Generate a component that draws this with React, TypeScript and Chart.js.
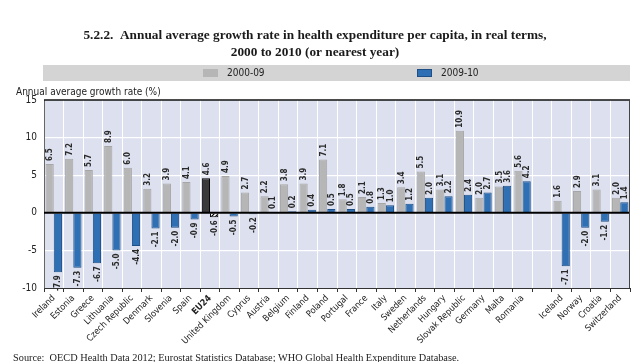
import React, { useEffect, useRef } from "react";
import { Chart, registerables } from "chart.js";

Chart.register(...registerables);

const categories = [
  "Ireland", "Estonia", "Greece", "Lithuania", "Czech Republic", "Denmark", "Slovenia", "Spain", "EU24",
  "United Kingdom", "Cyprus", "Austria", "Belgium", "Finland", "Poland", "Portugal", "France", "Italy",
  "Sweden", "Netherlands", "Hungary", "Slovak Republic", "Germany", "Malta", "Romania", "",
  "Iceland", "Norway", "Croatia", "Switzerland",
];
const growth2000to09 = [
  6.5, 7.2, 5.7, 8.9, 6.0, 3.2, 3.9, 4.1, 4.6, 4.9, 2.7, 2.2, 3.8, 3.9, 7.1, 1.8, 2.1, 1.3, 3.4, 5.5,
  3.1, 10.9, 2.0, 3.5, 5.6, null, 1.6, 2.9, 3.1, 2.0,
];
const growth2009to10 = [
  -7.9, -7.3, -6.7, -5.0, -4.4, -2.1, -2.0, -0.9, -0.6, -0.5, -0.2, 0.1, 0.2, 0.4, 0.5, 0.5, 0.8, 1.0,
  1.2, 2.0, 2.2, 2.4, 2.7, 3.6, 4.2, null, -7.1, -2.0, -1.2, 1.4,
];
const seriesLabels = ["2000-09", "2009-10"];
const yTicks = [-10, -5, 0, 5, 10, 15];
const titleLines = [
  "5.2.2.  Annual average growth rate in health expenditure per capita, in real terms,",
  "2000 to 2010 (or nearest year)",
];
const yAxisTitle = "Annual average growth rate (%)";
const sourceText =
  "Source:  OECD Health Data 2012; Eurostat Statistics Database; WHO Global Health Expenditure Database.";
const highlight = "EU24";

const NARROW = "'Liberation Sans Narrow', 'DejaVu Sans Condensed', 'Roboto Condensed', sans-serif";
const SERIF = "'Liberation Serif', 'DejaVu Serif', serif";

const GRAY = "#b6b6b6";
const BLUE = "#2f6fb3";

function makeHatch(): CanvasPattern | string {
  const c = document.createElement("canvas");
  c.width = 4;
  c.height = 4;
  const g = c.getContext("2d");
  if (!g) return "#fff";
  g.fillStyle = "#fff";
  g.fillRect(0, 0, 4, 4);
  g.strokeStyle = "#000";
  g.lineWidth = 1.2;
  g.beginPath();
  g.moveTo(0, 4);
  g.lineTo(4, 0);
  g.moveTo(-1, 1);
  g.lineTo(1, -1);
  g.moveTo(3, 5);
  g.lineTo(5, 3);
  g.stroke();
  const p = g.createPattern(c, "repeat");
  return p || "#fff";
}

const decorPlugin = {
  id: "decor",
  beforeDraw(chart: any) {
    const { ctx, chartArea: a } = chart;
    ctx.save();
    ctx.fillStyle = "#fff";
    ctx.fillRect(0, 0, chart.width, chart.height);
    ctx.fillStyle = "#dde1ef";
    ctx.fillRect(a.left, a.top, a.right - a.left, a.bottom - a.top);
    // legend band
    const bandTop = 65;
    const bandH = 16;
    ctx.fillStyle = "#d4d4d4";
    ctx.fillRect(43, bandTop, 630 - 43, bandH);
    const ds = chart.data.datasets;
    const swatchX = [203, 417];
    ds.forEach((d: any, i: number) => {
      ctx.fillStyle = i === 0 ? GRAY : BLUE;
      ctx.fillRect(swatchX[i], bandTop + 4, 15, 8);
      if (i === 1) {
        ctx.strokeStyle = "#1e4f86";
        ctx.lineWidth = 1;
        ctx.strokeRect(swatchX[i] + 0.5, bandTop + 4.5, 14, 7);
      }
      ctx.fillStyle = "#222";
      ctx.font = `10px ${NARROW}`;
      ctx.textBaseline = "middle";
      ctx.textAlign = "left";
      ctx.fillText(d.label, swatchX[i] + 24, bandTop + bandH / 2 + 0.5);
    });
    // y axis title
    ctx.fillStyle = "#222";
    ctx.font = `10px ${NARROW}`;
    ctx.textBaseline = "middle";
    ctx.fillText(yAxisTitle, 16, 92);
    ctx.restore();
  },
  afterDatasetsDraw(chart: any) {
    const { ctx, chartArea: a } = chart;
    const y = chart.scales.y;
    ctx.save();
    // zero line
    const y0 = y.getPixelForValue(0);
    ctx.strokeStyle = "#000";
    ctx.lineWidth = 2;
    ctx.beginPath();
    ctx.moveTo(a.left, y0);
    ctx.lineTo(a.right, y0);
    ctx.stroke();
    // frame
    ctx.lineWidth = 1.6;
    ctx.strokeStyle = "#111";
    ctx.beginPath();
    ctx.moveTo(a.left, a.top);
    ctx.lineTo(a.right, a.top);
    ctx.stroke();
    ctx.lineWidth = 1;
    ctx.strokeStyle = "#444";
    ctx.beginPath();
    ctx.moveTo(a.right - 0.5, a.top);
    ctx.lineTo(a.right - 0.5, a.bottom);
    ctx.stroke();
    // value labels
    ctx.fillStyle = "#2a2a2a";
    ctx.font = `bold 8px ${NARROW}`;
    ctx.textBaseline = "middle";
    chart.data.datasets.forEach((d: any, di: number) => {
      const meta = chart.getDatasetMeta(di);
      meta.data.forEach((el: any, i: number) => {
        const v = d.data[i];
        if (v === null || v === undefined) return;
        const txt = v.toFixed(1);
        ctx.save();
        if (v >= 0) {
          ctx.translate(el.x, el.y - 3);
          ctx.rotate(-Math.PI / 2);
          ctx.textAlign = "left";
        } else {
          ctx.translate(el.x, el.y + 3);
          ctx.rotate(-Math.PI / 2);
          ctx.textAlign = "right";
        }
        ctx.fillText(txt, 0, 0.5);
        ctx.restore();
      });
    });
    ctx.restore();
  },
  afterDraw(chart: any) {
    const { ctx } = chart;
    ctx.save();
    ctx.fillStyle = "#222";
    ctx.font = `10.3px ${SERIF}`;
    ctx.textBaseline = "alphabetic";
    ctx.textAlign = "left";
    ctx.fillText(sourceText, 13, 361);
    ctx.restore();
  },
};

export default function App() {
  const ref = useRef<HTMLCanvasElement | null>(null);
  useEffect(() => {
    if (!ref.current) return;
    const hatch = makeHatch();
    const grayBg = categories.map((c) => (c === highlight ? "#3a3a3a" : GRAY));
    const grayBorder = categories.map((c) => (c === highlight ? "#000" : "#a6a6a6"));
    const blueBg = categories.map((c) => (c === highlight ? hatch : BLUE));
    const blueBorder = categories.map((c) => (c === highlight ? "#000" : "#1e4f86"));
    const chart = new Chart(ref.current, {
      type: "bar",
      data: {
        labels: categories,
        datasets: [
          {
            label: seriesLabels[0],
            data: growth2000to09,
            backgroundColor: grayBg,
            borderColor: grayBorder,
            borderWidth: 1,
            categoryPercentage: 0.84,
            barPercentage: 1.0,
          },
          {
            label: seriesLabels[1],
            data: growth2009to10,
            backgroundColor: blueBg as any,
            borderColor: blueBorder,
            borderWidth: 1,
            categoryPercentage: 0.84,
            barPercentage: 1.0,
          },
        ],
      },
      options: {
        responsive: false,
        animation: false,
        layout: { padding: { left: 0, right: 14, top: 0, bottom: 0 } },
        plugins: {
          legend: { display: false },
          tooltip: { enabled: false },
          title: {
            display: true,
            text: titleLines,
            color: "#1a1a1a",
            font: { family: SERIF, size: 13.3, weight: "bold", lineHeight: 1.28 },
            padding: { top: 27, bottom: 39 },
          },
        },
        scales: {
          x: {
            grid: {
              color: "#ffffff",
              lineWidth: 1,
              tickColor: "#333",
              tickLength: 4,
              offset: true,
            },
            border: { color: "#333", width: 1 },
            ticks: {
              autoSkip: false,
              minRotation: 45,
              maxRotation: 45,
              padding: 1,
              color: "#222",
              font: (c: any) => ({
                family: NARROW,
                size: 9,
                weight: c.tick && c.tick.label === highlight ? "bold" : "normal",
              }),
            },
            afterFit: (s: any) => {
              s.height = 74;
            },
          },
          y: {
            min: yTicks[0],
            max: yTicks[yTicks.length - 1],
            afterBuildTicks: (s: any) => {
              s.ticks = yTicks.map((v) => ({ value: v }));
            },
            grid: {
              color: (c: any) => (c.tick && (c.tick.value === 15 || c.tick.value === -10 || c.tick.value === 0) ? "rgba(0,0,0,0)" : "#ffffff"),
              lineWidth: 1.2,
              drawTicks: false,
            },
            border: { color: "#666", width: 1 },
            ticks: {
              padding: 7,
              color: "#222",
              font: { family: NARROW, size: 10 },
            },
            afterFit: (s: any) => {
              s.width = 44;
            },
          },
        },
      },
      plugins: [decorPlugin],
    });
    return () => chart.destroy();
  }, []);
  return (
    <div style={{ position: "fixed", left: 0, top: 0, width: 644, height: 362, background: "#fff" }}>
      <canvas ref={ref} width={644} height={362} style={{ display: "block", width: 644, height: 362 }} />
    </div>
  );
}
